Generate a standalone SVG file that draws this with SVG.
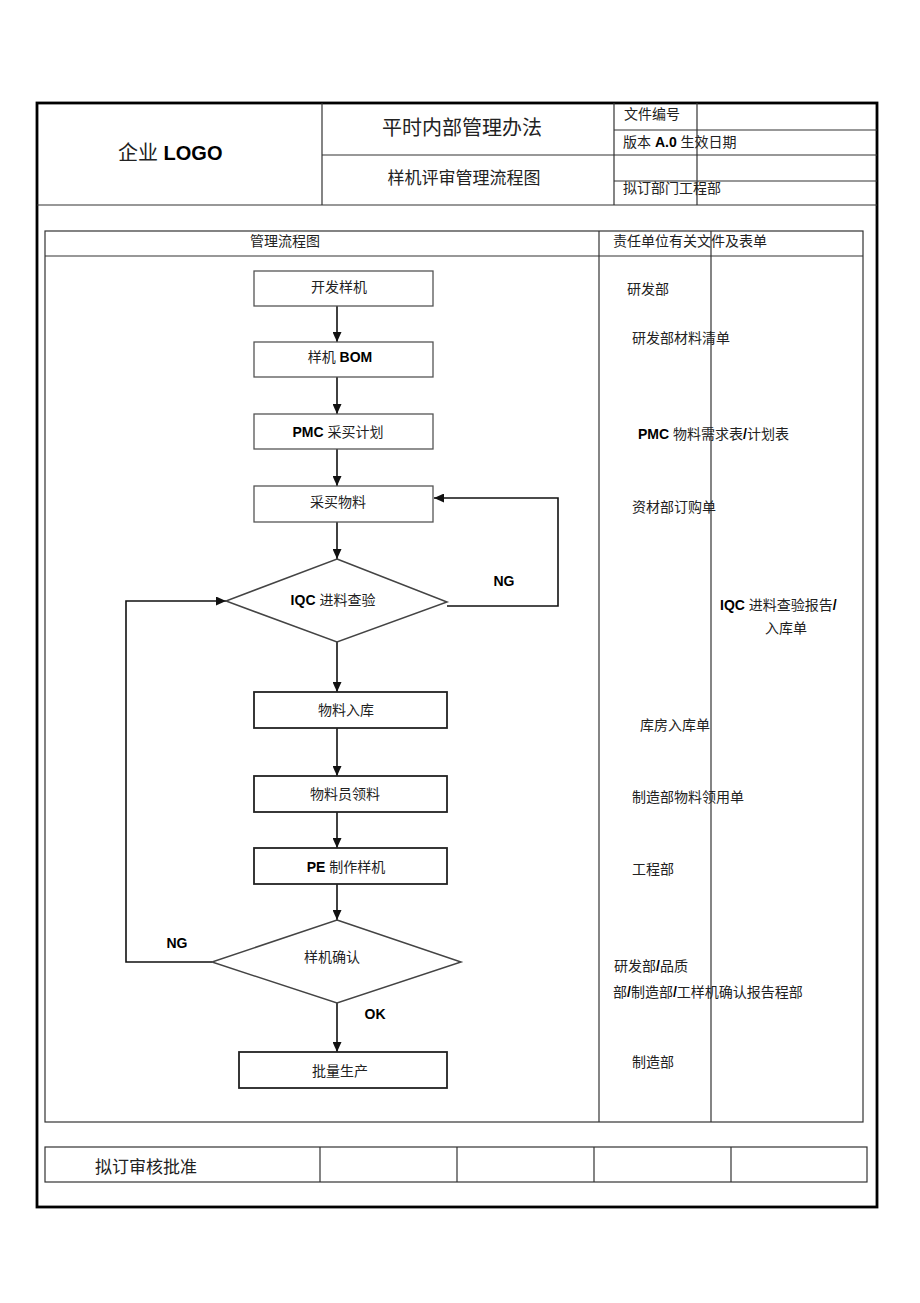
<svg xmlns="http://www.w3.org/2000/svg" width="920" height="1303" viewBox="0 0 920 1303">
<style>
text{font-family:"Liberation Sans","Noto Sans CJK SC",sans-serif;fill:#222;font-size:14px}
.b{font-weight:bold;fill:#000}
.m{text-anchor:middle}
.grid{stroke:#333;stroke-width:1.2;fill:none}
.box{fill:#fff;stroke:#555;stroke-width:1.3}
.box2{fill:#fff;stroke:#222;stroke-width:1.8}
.dia{fill:#fff;stroke:#444;stroke-width:1.5}
.con{stroke:#111;stroke-width:1.6;fill:none}
</style>
<defs>
<marker id="ah" viewBox="0 0 10 9" refX="10" refY="4.5" markerWidth="10" markerHeight="9" markerUnits="userSpaceOnUse" orient="auto"><path d="M0,0 L10,4.5 L0,9 z" fill="#111"/></marker>
</defs>
<rect width="920" height="1303" fill="#fff"/>

<g id="frame">
<rect x="37" y="103" width="840" height="1104" fill="none" stroke="#000" stroke-width="2.8"/>
<line class="grid" x1="37" y1="205" x2="877" y2="205"/>
<line class="grid" x1="322" y1="103" x2="322" y2="205"/>
<line class="grid" x1="614" y1="103" x2="614" y2="205"/>
<line class="grid" x1="697" y1="103" x2="697" y2="205"/>
<line class="grid" x1="322" y1="155" x2="614" y2="155"/>
<line class="grid" x1="614" y1="130" x2="877" y2="130"/>
<line class="grid" x1="614" y1="155" x2="877" y2="155"/>
<line class="grid" x1="614" y1="181" x2="877" y2="181"/>
<text x="118" y="160" style="font-size:20px">企业 <tspan class="b">LOGO</tspan></text>
<text x="462" y="135" class="m" style="font-size:20px">平时内部管理办法</text>
<text x="464" y="184" class="m" style="font-size:17px">样机评审管理流程图</text>
<text x="624" y="119">文件编号</text>
<text x="623" y="147">版本 <tspan class="b">A.0</tspan> 生效日期</text>
<text x="623" y="193">拟订部门工程部</text>
</g>

<g id="table">
<rect class="grid" x="45" y="231" width="818" height="891"/>
<line class="grid" x1="45" y1="256" x2="863" y2="256"/>
<line class="grid" x1="599" y1="231" x2="599" y2="1122"/>
<line class="grid" x1="711" y1="231" x2="711" y2="1122"/>
<text x="285" y="246" class="m">管理流程图</text>
<text x="613" y="246">责任单位有关文件及表单</text>
</g>

<g id="connectors">
<line class="con" x1="337" y1="306" x2="337" y2="342" marker-end="url(#ah)"/>
<line class="con" x1="337" y1="377" x2="337" y2="414" marker-end="url(#ah)"/>
<line class="con" x1="337" y1="449" x2="337" y2="486" marker-end="url(#ah)"/>
<line class="con" x1="337" y1="522" x2="337" y2="559" marker-end="url(#ah)"/>
<line class="con" x1="337" y1="642" x2="337" y2="692" marker-end="url(#ah)"/>
<line class="con" x1="337" y1="728" x2="337" y2="776" marker-end="url(#ah)"/>
<line class="con" x1="337" y1="812" x2="337" y2="848" marker-end="url(#ah)"/>
<line class="con" x1="337" y1="884" x2="337" y2="920" marker-end="url(#ah)"/>
<line class="con" x1="337" y1="1003" x2="337" y2="1052" marker-end="url(#ah)"/>
<polyline class="con" points="447,606 558,606 558,498 434,498" marker-end="url(#ah)"/>
<polyline class="con" points="212,962 126,962 126,601 226,601" marker-end="url(#ah)"/>
<text x="504" y="586" class="b m">NG</text>
<text x="177" y="948" class="b m">NG</text>
<text x="375" y="1019" class="b m">OK</text>
</g>

<g id="n1"><rect class="box" x="254" y="271" width="179" height="35"/><text x="339" y="292" class="m">开发样机</text></g>
<g id="n2"><rect class="box" x="254" y="342" width="179" height="35"/><text x="340" y="362" class="m">样机 <tspan class="b">BOM</tspan></text></g>
<g id="n3"><rect class="box" x="254" y="414" width="179" height="35"/><text x="338" y="437" class="m"><tspan class="b">PMC</tspan> 采买计划</text></g>
<g id="n4"><rect class="box" x="254" y="486" width="179" height="36"/><text x="338" y="507" class="m">采买物料</text></g>
<g id="n5"><polygon class="dia" points="337,559 447,602 337,642 226,601"/><text x="333" y="605" class="m"><tspan class="b">IQC</tspan> 进料查验</text></g>
<g id="n6"><rect class="box2" x="254" y="692" width="193" height="36"/><text x="346" y="715" class="m">物料入库</text></g>
<g id="n7"><rect class="box2" x="254" y="776" width="193" height="36"/><text x="345" y="799" class="m">物料员领料</text></g>
<g id="n8"><rect class="box2" x="254" y="848" width="193" height="36"/><text x="346" y="872" class="m"><tspan class="b">PE</tspan> 制作样机</text></g>
<g id="n9"><polygon class="dia" points="337,920 461,962 337,1003 212,962"/><text x="332" y="962" class="m">样机确认</text></g>
<g id="n10"><rect class="box2" x="239" y="1052" width="208" height="36"/><text x="340" y="1076" class="m">批量生产</text></g>

<g id="docs">
<text x="627" y="294">研发部</text>
<text x="632" y="343">研发部材料清单</text>
<text x="638" y="439"><tspan class="b">PMC</tspan> 物料需求表<tspan class="b">/</tspan>计划表</text>
<text x="632" y="512">资材部订购单</text>
<text x="720" y="610"><tspan class="b">IQC</tspan> 进料查验报告<tspan class="b">/</tspan></text>
<text x="786" y="633" class="m">入库单</text>
<text x="640" y="730">库房入库单</text>
<text x="632" y="802">制造部物料领用单</text>
<text x="632" y="874">工程部</text>
<text x="614" y="971">研发部<tspan class="b">/</tspan>品质</text>
<text x="613" y="997">部<tspan class="b">/</tspan>制造部<tspan class="b">/</tspan>工样机确认报告程部</text>
<text x="632" y="1067">制造部</text>
</g>

<g id="approval">
<rect class="grid" x="45" y="1147" width="822" height="35"/>
<line class="grid" x1="320" y1="1147" x2="320" y2="1182"/>
<line class="grid" x1="457" y1="1147" x2="457" y2="1182"/>
<line class="grid" x1="594" y1="1147" x2="594" y2="1182"/>
<line class="grid" x1="731" y1="1147" x2="731" y2="1182"/>
<text x="95" y="1173" style="font-size:17px">拟订审核批准</text>
</g>
</svg>
